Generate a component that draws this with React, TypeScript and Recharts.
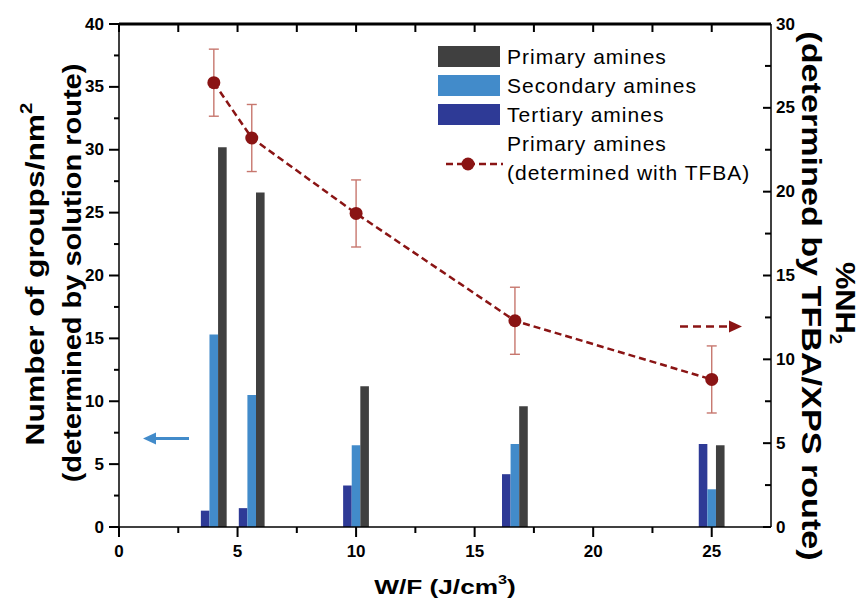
import { Bar, ComposedChart, ErrorBar, Legend, Line, ReferenceLine, XAxis, YAxis } from "recharts";

const wf = [4.0, 5.6, 10.0, 16.7, 25.0];
const primaryAmines = [30.2, 26.6, 11.2, 9.6, 6.5];
const secondaryAmines = [15.3, 10.5, 6.5, 6.6, 3.0];
const tertiaryAmines = [1.3, 1.5, 3.3, 4.2, 6.6];
const tfbaNH2 = [26.5, 23.2, 18.7, 12.3, 8.8];
const tfbaError = [2.0, 2.0, 2.0, 2.0, 2.0];

const xTicks = [0, 2.5, 5, 7.5, 10, 12.5, 15, 17.5, 20, 22.5, 25];
const leftTicks = [0, 2.5, 5, 7.5, 10, 12.5, 15, 17.5, 20, 22.5, 25, 27.5, 30, 32.5, 35, 37.5, 40];
const rightTicks = [0, 2.5, 5, 7.5, 10, 12.5, 15, 17.5, 20, 22.5, 25, 27.5, 30];

const FONT = "'Liberation Sans', Arial, sans-serif";
const C_PRIMARY = "#404040";
const C_SECONDARY = "#428BCA";
const C_TERTIARY = "#2E3A96";
const C_LINE = "#8A1414";
const C_ERR = "#C7776E";
const PLOT_TOP = 24;

const data = wf.map((x, i) => ({
  wf: x,
  tertiary: tertiaryAmines[i],
  secondary: secondaryAmines[i],
  primary: primaryAmines[i],
  tfba: tfbaNH2[i],
  tfbaErr: tfbaError[i],
}));

interface TickProps {
  x?: number | string;
  y?: number | string;
  payload?: { value: number };
}

const isMajor = (v: number) => Math.abs(v % 5) < 1e-6;

function renderBottomTick({ x = 0, y = 0, payload }: TickProps) {
  const px = Number(x);
  const py = Number(y);
  const v = payload?.value ?? 0;
  const major = isMajor(v);
  return (
    <g key={`b-${v}`}>
      <rect x={px - 1} y={py} width={2} height={major ? 10 : 6} fill="#000" />
      <rect x={px - 1} y={PLOT_TOP} width={2} height={8} fill="#000" />
      {major ? (
        <text x={px} y={py + 24} textAnchor="middle" dominantBaseline="central" fontFamily={FONT} fontWeight="bold" fontSize={17} fill="#000">
          {v}
        </text>
      ) : null}
    </g>
  );
}

function renderLeftTick({ x = 0, y = 0, payload }: TickProps) {
  const px = Number(x);
  const py = Number(y);
  const v = payload?.value ?? 0;
  const major = isMajor(v);
  const len = major ? 10 : 5;
  return (
    <g key={`l-${v}`}>
      <rect x={px - len} y={py - 1} width={len} height={2} fill="#000" />
      {major ? (
        <text x={px - 15} y={py} textAnchor="end" dominantBaseline="central" fontFamily={FONT} fontWeight="bold" fontSize={17} fill="#000">
          {v}
        </text>
      ) : null}
    </g>
  );
}

function renderRightTick({ x = 0, y = 0, payload }: TickProps) {
  const px = Number(x);
  const py = Number(y);
  const v = payload?.value ?? 0;
  const major = isMajor(v);
  const len = major ? 8 : 6;
  return (
    <g key={`r-${v}`}>
      <rect x={px - len} y={py - 1} width={len} height={2} fill="#000" />
      {major ? (
        <text x={px + 5} y={py} textAnchor="start" dominantBaseline="central" fontFamily={FONT} fontWeight="bold" fontSize={17} fill="#000">
          {v}
        </text>
      ) : null}
    </g>
  );
}

function ChartLegend() {
  const rows = [
    { label: "Primary amines", color: C_PRIMARY },
    { label: "Secondary amines", color: C_SECONDARY },
    { label: "Tertiary amines", color: C_TERTIARY },
  ];
  const textStyle = {
    position: "absolute" as const,
    left: 70,
    fontFamily: FONT,
    fontSize: 21,
    letterSpacing: 1,
    lineHeight: "29px",
    color: "#000",
    whiteSpace: "nowrap" as const,
  };
  return (
    <div style={{ position: "relative", width: 340, height: 150 }}>
      {rows.map((r, i) => (
        <div key={r.label}>
          <div style={{ position: "absolute", left: 1, top: 2 + i * 29, width: 62, height: 21, background: r.color }} />
          <div style={{ ...textStyle, top: -2 + i * 29 }}>{r.label}</div>
        </div>
      ))}
      <svg style={{ position: "absolute", left: 0, top: 110 }} width={70} height={20}>
        <line x1={9} x2={66} y1={10} y2={10} stroke={C_LINE} strokeWidth={2.5} strokeDasharray="7 4" />
        <circle cx={31} cy={10} r={6.5} fill={C_LINE} />
      </svg>
      <div style={{ ...textStyle, top: 85 }}>Primary amines</div>
      <div style={{ ...textStyle, top: 114 }}>(determined with TFBA)</div>
    </div>
  );
}

export default function App() {
  return (
    <div style={{ position: "absolute", left: 0, top: 0, width: 866, height: 601, background: "#fff" }}>
      <ComposedChart
        width={866}
        height={601}
        data={data}
        margin={{ top: PLOT_TOP, right: 35, bottom: 34, left: 59 }}
        barGap={0}
      >
        <XAxis
          dataKey="wf"
          type="number"
          domain={[0, 27.5]}
          ticks={xTicks}
          allowDataOverflow
          height={40}
          tickSize={0}
          tickMargin={0}
          tickLine={false}
          tick={renderBottomTick}
          axisLine={{ stroke: "#000", strokeWidth: 1.5 }}
          interval={0}
        />
        <YAxis
          yAxisId="left"
          domain={[0, 40]}
          ticks={leftTicks}
          width={60}
          tickSize={0}
          tickMargin={0}
          tickLine={false}
          tick={renderLeftTick}
          axisLine={{ stroke: "#000", strokeWidth: 1.5 }}
          interval={0}
        />
        <YAxis
          yAxisId="right"
          orientation="right"
          domain={[0, 30]}
          ticks={rightTicks}
          width={60}
          tickSize={0}
          tickMargin={0}
          tickLine={false}
          tick={renderRightTick}
          axisLine={{ stroke: "#000", strokeWidth: 1.5 }}
          interval={0}
        />
        <ReferenceLine yAxisId="left" y={40} stroke="#000" strokeWidth={3} ifOverflow="visible" />
        <Legend
          layout="vertical"
          align="center"
          verticalAlign="middle"
          wrapperStyle={{ left: 437, top: 44, width: 340 }}
          content={() => <ChartLegend />}
        />
        <Bar yAxisId="left" dataKey="tertiary" fill={C_TERTIARY} barSize={8.6} isAnimationActive={false} />
        <Bar yAxisId="left" dataKey="secondary" fill={C_SECONDARY} barSize={8.6} isAnimationActive={false} />
        <Bar yAxisId="left" dataKey="primary" fill={C_PRIMARY} barSize={8.6} isAnimationActive={false} />
        <Line
          yAxisId="right"
          dataKey="tfba"
          type="linear"
          stroke={C_LINE}
          strokeWidth={2.5}
          strokeDasharray="7 4"
          dot={{ r: 6.5, fill: C_LINE, stroke: C_LINE, strokeWidth: 0, strokeDasharray: "" }}
          isAnimationActive={false}
        >
          <ErrorBar dataKey="tfbaErr" direction="y" width={5} stroke={C_ERR} strokeWidth={1.4} />
        </Line>
      </ComposedChart>
      <svg
        width={866}
        height={601}
        style={{ position: "absolute", left: 0, top: 0, pointerEvents: "none" }}
        fontFamily={FONT}
        fontWeight="bold"
      >
        <g transform="translate(35,274) rotate(-90) scale(1.27,1)">
          <text textAnchor="middle" dominantBaseline="central" fontSize={25} fill="#000">
            Number of groups/nm<tspan fontSize={16} dy={-9}>2</tspan>
          </text>
        </g>
        <g transform="translate(72,273) rotate(-90) scale(1.16,1)">
          <text textAnchor="middle" dominantBaseline="central" fontSize={25} fill="#000">
            (determined by solution route)
          </text>
        </g>
        <g transform="translate(846,303) rotate(90) scale(1.1,1)">
          <text textAnchor="middle" dominantBaseline="central" fontSize={28} fill="#000">
            %NH<tspan fontSize={17} dy={10}>2</tspan>
          </text>
        </g>
        <g transform="translate(811,296) rotate(90) scale(1.22,1)">
          <text textAnchor="middle" dominantBaseline="central" fontSize={28} fill="#000">
            (determined by TFBA/XPS route)
          </text>
        </g>
        <g transform="translate(445,594) scale(1.25,1)">
          <text textAnchor="middle" fontSize={21} fill="#000">
            W/F (J/cm<tspan fontSize={13} dy={-10}>3</tspan>
            <tspan dy={10}>)</tspan>
          </text>
        </g>
        <line x1={189} x2={153} y1={438.5} y2={438.5} stroke={C_SECONDARY} strokeWidth={3} />
        <polygon points="143,438.5 156,432.5 156,444.5" fill={C_SECONDARY} />
        <line x1={680} x2={731} y1={326.5} y2={326.5} stroke={C_LINE} strokeWidth={2.5} strokeDasharray="8 5" />
        <polygon points="742,326.5 729,320.5 729,332.5" fill={C_LINE} />
      </svg>
    </div>
  );
}
